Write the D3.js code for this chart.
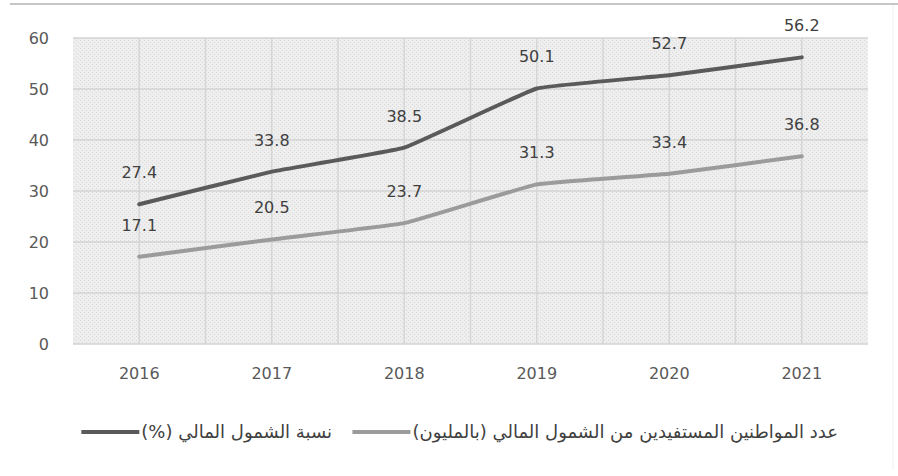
<!DOCTYPE html>
<html>
<head>
<meta charset="utf-8">
<script src="https://cdn.jsdelivr.net/npm/d3@7"></script>
<style>
  body { margin: 0; background: #fff; }
  svg text { font-family: "DejaVu Sans", sans-serif; }
</style>
</head>
<body>
<div id="chart"></div>
<script>
const years = ['2016', '2017', '2018', '2019', '2020', '2021'];
const inclusionRate = [27.4, 33.8, 38.5, 50.1, 52.7, 56.2];
const beneficiaries = [17.1, 20.5, 23.7, 31.3, 33.4, 36.8];
const yTicks = [0, 10, 20, 30, 40, 50, 60];
const seriesNames = ['نسبة الشمول المالي (%)', 'عدد المواطنين المستفيدين من الشمول المالي (بالمليون)'];

const width = 898, height = 476;

const svg = d3.select('#chart')
  .append('svg')
  .attr('width', width)
  .attr('height', height);

// dotted hatch like the original background
const defs = svg.append('defs');
const pat = defs.append('pattern')
  .attr('id', 'dots')
  .attr('width', 4)
  .attr('height', 4)
  .attr('patternUnits', 'userSpaceOnUse');
pat.append('rect').attr('width', 4).attr('height', 4).attr('fill', '#eeeeee');
pat.append('rect').attr('width', 1).attr('height', 1).attr('fill', '#dadada');
pat.append('rect').attr('x', 2).attr('y', 2).attr('width', 1).attr('height', 1).attr('fill', '#dadada');

// frame lines of the picture
svg.append('line')
  .attr('x1', 10).attr('x2', width)
  .attr('y1', 4).attr('y2', 4)
  .attr('stroke', '#c6c6c6')
  .attr('stroke-width', 2);
svg.append('line')
  .attr('x1', 893).attr('x2', 893)
  .attr('y1', 5).attr('y2', 470)
  .attr('stroke', '#f0f0f0')
  .attr('stroke-width', 1);

const plot = { left: 73, right: 868, top: 38, bottom: 344 };

const x = d3.scaleBand()
  .domain(years)
  .range([plot.left, plot.right]);

const y = d3.scaleLinear()
  .domain([0, 60])
  .range([plot.bottom, plot.top]);

const graph = svg.append('g');

graph.append('rect')
  .attr('x', plot.left)
  .attr('y', plot.top)
  .attr('width', plot.right - plot.left)
  .attr('height', plot.bottom - plot.top)
  .attr('fill', 'url(#dots)');

// vertical grid: category centres and band edges
const vLines = [];
years.forEach(d => {
  vLines.push(x(d));
  vLines.push(x(d) + x.bandwidth() / 2);
});
graph.selectAll('.vgrid')
  .data(vLines.slice(1))
  .enter()
  .append('line')
  .attr('class', 'vgrid')
  .attr('x1', d => d).attr('x2', d => d)
  .attr('y1', plot.top).attr('y2', plot.bottom)
  .attr('stroke', '#d6d6d6')
  .attr('stroke-width', 1.5);

graph.selectAll('.hgrid')
  .data(yTicks)
  .enter()
  .append('line')
  .attr('class', 'hgrid')
  .attr('x1', plot.left).attr('x2', plot.right)
  .attr('y1', d => y(d)).attr('y2', d => y(d))
  .attr('stroke', '#d3d3d3')
  .attr('stroke-width', 1.5);

// axes
const yAxis = graph.append('g')
  .attr('transform', `translate(${plot.left}, 0)`)
  .call(d3.axisLeft(y).tickValues(yTicks).tickSize(0).tickPadding(24));
yAxis.select('.domain').remove();
yAxis.selectAll('text')
  .attr('fill', '#595959')
  .style('font-size', '16px');

const xAxis = graph.append('g')
  .attr('transform', `translate(0, ${plot.bottom})`)
  .call(d3.axisBottom(x).tickSize(0).tickPadding(24));
xAxis.select('.domain').remove();
xAxis.selectAll('text')
  .attr('fill', '#595959')
  .style('font-size', '16px');

// lines
const series = [
  { name: seriesNames[0], values: inclusionRate, color: '#5a5a5a' },
  { name: seriesNames[1], values: beneficiaries, color: '#9b9b9b' }
];

const line = d3.line()
  .x((d, i) => x(years[i]) + x.bandwidth() / 2)
  .y(d => y(d))
  .curve(d3.curveCardinal.tension(0.75));

graph.selectAll('.series')
  .data(series)
  .enter()
  .append('path')
  .attr('class', 'series')
  .attr('fill', 'none')
  .attr('stroke', d => d.color)
  .attr('stroke-width', 4)
  .attr('stroke-linecap', 'round')
  .attr('d', d => line(d.values));

series.forEach(s => {
  graph.selectAll(null)
    .data(s.values)
    .enter()
    .append('text')
    .attr('text-anchor', 'middle')
    .attr('fill', '#404040')
    .attr('x', (d, i) => x(years[i]) + x.bandwidth() / 2)
    .attr('y', d => y(d) - 26)
    .style('font-size', '16px')
    .text(d => d.toFixed(1));
});

// legend: text anchored on its right end, sample line sits just left of it
const legendItems = [
  { name: seriesNames[0], color: '#5a5a5a', textX: 332 },
  { name: seriesNames[1], color: '#9b9b9b', textX: 838 }
];

const legend = svg.append('g')
  .attr('class', 'legend');

const legendText = legend.selectAll('text')
  .data(legendItems)
  .enter()
  .append('text')
  .attr('x', d => d.textX)
  .attr('y', 438)
  .attr('direction', 'rtl')
  .attr('text-anchor', 'start')
  .attr('fill', '#404040')
  .style('font-size', '18px')
  .text(d => d.name);

legendText.each(function (d) {
  d.textLeft = d.textX - this.getComputedTextLength();
});

legend.selectAll('line')
  .data(legendItems)
  .enter()
  .append('line')
  .attr('x1', d => d.textLeft - 60).attr('x2', d => d.textLeft - 2)
  .attr('y1', 432).attr('y2', 432)
  .attr('stroke', d => d.color)
  .attr('stroke-width', 4);
</script>
</body>
</html>
